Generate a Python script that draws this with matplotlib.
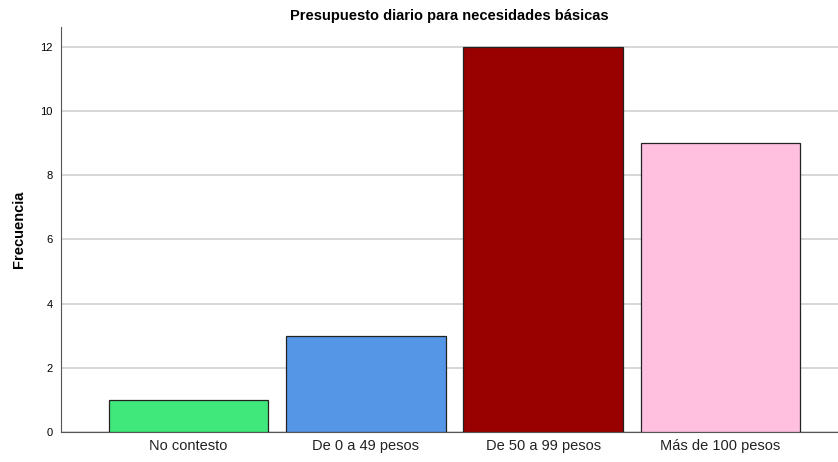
import matplotlib.pyplot as plt

plt.rcParams['font.family'] = ['Liberation Sans', 'DejaVu Sans']

categorias = ['No contesto', 'De 0 a 49 pesos', 'De 50 a 99 pesos', 'Más de 100 pesos']
frecuencias = [1, 3, 12, 9]
colores = ['#40e87c', '#5596e6', '#990000', '#ffc0e0']

fig = plt.figure(figsize=(8.38, 4.62), dpi=100)
ax = fig.add_axes([0.0728, 0.0649, 0.9272, 0.8767])

x = range(len(categorias))
ax.bar(x, frecuencias, width=0.9, color=colores, edgecolor='#222222', linewidth=0.9, zorder=3)

ax.set_xlim(-0.718, 3.662)
ax.set_ylim(0, 12.62)
ax.set_yticks([0, 2, 4, 6, 8, 10, 12])
ax.set_xticks(list(x))
ax.set_xticklabels(categorias, fontsize=10.5, color='#222222')
ax.tick_params(axis='y', labelsize=8, length=0, pad=6)
ax.tick_params(axis='x', length=0, pad=5)
ax.grid(axis='y', color='#d0d0d0', linewidth=1.2, zorder=0)

for s in ['top', 'right']:
    ax.spines[s].set_visible(False)
ax.spines['left'].set_color('#555555')
ax.spines['bottom'].set_color('#555555')

ax.set_ylabel('Frecuencia', fontsize=10.5, fontweight='bold', labelpad=10)
ax.set_title('Presupuesto diario para necesidades básicas', fontsize=10.5,
             fontweight='bold', pad=5)

fig.savefig('out.png', dpi=100)
